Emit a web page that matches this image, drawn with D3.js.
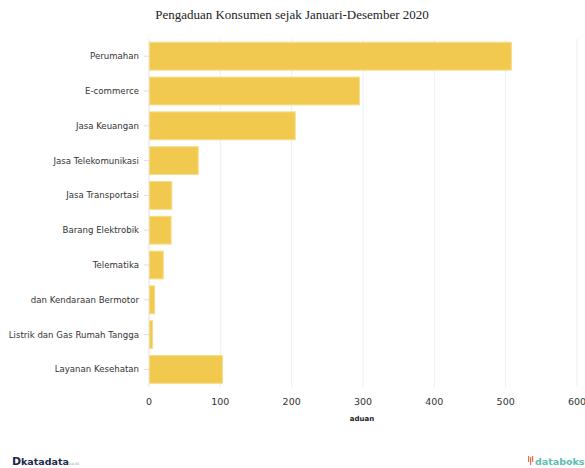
<!DOCTYPE html>
<html><head><meta charset="utf-8">
<script src="https://cdn.jsdelivr.net/npm/d3@7"></script>
<style>body{margin:0;background:#fff}svg{display:block}</style>
</head><body>
<svg id="c" width="585" height="468"></svg>
<script>
const categories = ["Perumahan","E-commerce","Jasa Keuangan","Jasa Telekomunikasi","Jasa Transportasi","Barang Elektrobik","Telematika","dan Kendaraan Bermotor","Listrik dan Gas Rumah Tangga","Layanan Kesehatan"];
const values = [508, 295, 205, 69, 32, 31, 20, 8, 5, 103];
const xTicks = [0,100,200,300,400,500,600];
const title = "Pengaduan Konsumen sejak Januari-Desember 2020";
const xTitle = "aduan";

const svg = d3.select("#c");
const x = d3.scaleLinear().domain([0,600]).range([149,577]);
const y = d3.scaleBand().domain(categories).range([38.8,386.8]).paddingInner(0.2).paddingOuter(0.1);

// grid
svg.append("g").selectAll("line").data(xTicks).join("line")
  .attr("x1",d=>x(d)).attr("x2",d=>x(d)).attr("y1",39).attr("y2",387)
  .attr("stroke",d=>d===0?"#e0e0e0":"#eeeeee").attr("stroke-width",1);

// y ticks
svg.append("g").selectAll("line").data(categories).join("line")
  .attr("x1",144).attr("x2",149)
  .attr("y1",d=>y(d)+y.bandwidth()/2).attr("y2",d=>y(d)+y.bandwidth()/2)
  .attr("stroke","#dddddd");

// bars
svg.append("g").selectAll("rect").data(categories).join("rect")
  .attr("x",x(0)+0.5).attr("y",d=>y(d))
  .attr("width",(d,i)=>x(values[i])-x(0)-0.5).attr("height",y.bandwidth())
  .attr("fill","#F2C94F").attr("stroke","#F6DC8E").attr("stroke-width",1);

// y labels
svg.append("g").selectAll("text").data(categories).join("text")
  .attr("x",139).attr("y",d=>y(d)+y.bandwidth()/2).attr("dy","0.35em")
  .attr("text-anchor","end").attr("font-family","DejaVu Sans, Verdana, sans-serif")
  .attr("font-size","8.6px").attr("fill","#333").text(d=>d);

// x tick labels
svg.append("g").selectAll("text").data(xTicks).join("text")
  .attr("x",d=>x(d)).attr("y",405).attr("text-anchor","middle")
  .attr("font-family","DejaVu Sans, Verdana, sans-serif").attr("font-size","9.5px")
  .attr("fill","#333").text(d=>d);

svg.append("text").attr("x",362).attr("y",421).attr("text-anchor","middle")
  .attr("font-family","DejaVu Sans, Verdana, sans-serif").attr("font-size","7px")
  .attr("font-weight","bold").attr("fill","#222").text(xTitle);

svg.append("text").attr("x",292).attr("y",19).attr("text-anchor","middle")
  .attr("font-family","Liberation Serif, Times New Roman, serif").attr("font-size","13px")
  .attr("fill","#222").text(title);

// logos
const g1 = svg.append("g");
g1.append("text").attr("x",12).attr("y",465).attr("font-family","DejaVu Sans, sans-serif")
  .attr("font-weight","bold").attr("font-size","11px").attr("fill","#1b2a4a").text("D");
g1.append("text").attr("x",21).attr("y",465).attr("font-family","DejaVu Sans, sans-serif")
  .attr("font-weight","bold").attr("font-size","9.5px").attr("fill","#1b2a4a").text("katadata");
g1.append("text").attr("x",68).attr("y",465).attr("font-family","DejaVu Sans, sans-serif")
  .attr("font-size","4px").attr("fill","#999").text(".co.id");
const g2 = svg.append("g");
[0,2,4].forEach((dx,i)=>g2.append("rect").attr("x",528+dx).attr("y",456+(i%2?1:0)).attr("width",1.2).attr("height",i===1?8:6).attr("fill","#ee6b4d"));
g2.append("text").attr("x",535).attr("y",465).attr("font-family","DejaVu Sans, sans-serif")
  .attr("font-weight","bold").attr("font-size","9.5px").attr("fill","#5bbdb4").text("databoks");
</script>
</body></html>
